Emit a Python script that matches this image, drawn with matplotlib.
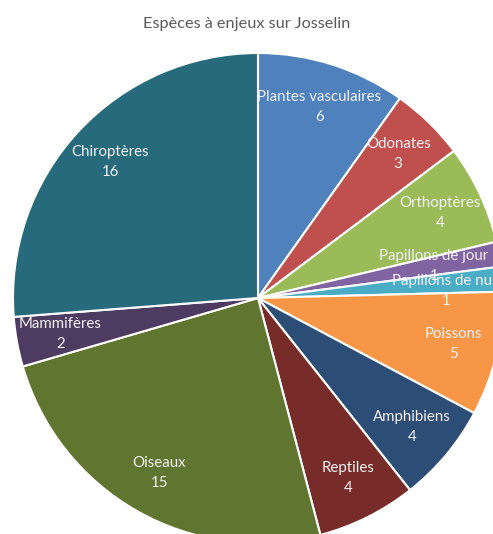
import matplotlib
matplotlib.use("Agg")
import matplotlib.pyplot as plt

# data
categories = ['Plantes vasculaires', 'Odonates', 'Orthoptères', 'Papillons de jour',
              'Papillons de nuit', 'Poissons', 'Amphibiens', 'Reptiles', 'Oiseaux',
              'Mammifères', 'Chiroptères']
counts = [6, 3, 4, 1, 1, 5, 4, 4, 15, 2, 16]
colors = ['#4F81BD', '#C0504D', '#9BBB59', '#8064A2', '#4BACC6', '#F79646',
          '#2C4D75', '#772C2A', '#5F7530', '#4D3B62', '#276A7C']

plt.rcParams['font.family'] = ['Lato', 'DejaVu Sans']

W, H = 493, 534
fig = plt.figure(figsize=(W / 100, H / 100), dpi=100)
ax = fig.add_axes([0, 0, 1, 1])

# pie centre and radius in pixels
cx, cy, r = 258, 298, 245

labels = [f'{c}\n{v}' for c, v in zip(categories, counts)]
wedges, texts = ax.pie(counts, labels=labels, colors=colors, startangle=90,
                       counterclock=False, labeldistance=0.82,
                       wedgeprops=dict(edgecolor='white', linewidth=1.5),
                       textprops=dict(color='#F2F2F2', fontsize=10.8,
                                      ha='center', va='center',
                                      linespacing=1.55))
# the two thin butterfly slices carry their labels closer to the centre
for i, d in ((3, 0.73), (4, 0.77)):
    x, y = texts[i].get_position()
    texts[i].set_position((x * d / 0.82, y * d / 0.82 - (0.03 if i == 4 else 0)))
for t in texts:
    t.set_horizontalalignment('center')

ax.set_aspect('auto')
ax.set_xlim(-cx / r, (W - cx) / r)
ax.set_ylim(-(H - cy) / r, cy / r)
ax.axis('off')

fig.text(0.5, 1 - 24 / H, 'Espèces à enjeux sur Josselin', ha='center', va='center',
         fontsize=11.7, color='#595959')

fig.savefig('out.png', dpi=100)
